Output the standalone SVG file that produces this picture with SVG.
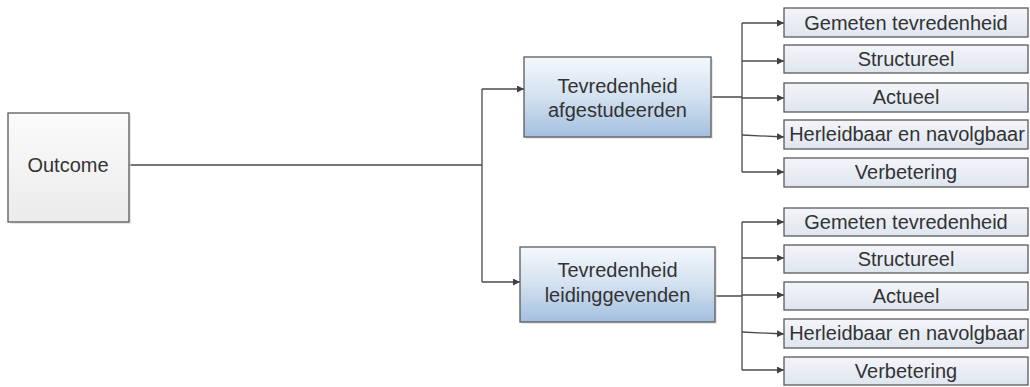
<svg xmlns="http://www.w3.org/2000/svg" width="1030" height="387" viewBox="0 0 1030 387">
<defs>
<linearGradient id="gGray" x1="0" y1="0" x2="0" y2="1"><stop offset="0" stop-color="#fbfbfb"/><stop offset="1" stop-color="#ebebeb"/></linearGradient>
<linearGradient id="gBlue" x1="0" y1="0" x2="0" y2="1"><stop offset="0" stop-color="#f4f8fc"/><stop offset="0.5" stop-color="#d3e1f0"/><stop offset="1" stop-color="#a3bfdf"/></linearGradient>
<linearGradient id="gLight" x1="0" y1="0" x2="0" y2="1"><stop offset="0" stop-color="#f3f5f9"/><stop offset="1" stop-color="#dfe5ef"/></linearGradient>
<marker id="arr" viewBox="0 0 8 8" refX="8" refY="4" markerWidth="7" markerHeight="7" markerUnits="userSpaceOnUse" orient="auto"><path d="M0,0 L8,4 L0,8 z" fill="#404040"/></marker>
</defs>
<style>
.box{stroke:#5a5a5a;stroke-width:1.3}
.sh{fill:#d9d9d9;opacity:0.6}
.gray{fill:url(#gGray)}
.blue{fill:url(#gBlue)}
.light{fill:url(#gLight)}
text{font-family:"Liberation Sans",Arial,sans-serif;font-size:20px;fill:#333;text-anchor:middle}
.c{fill:none;stroke:#4a4a4a;stroke-width:1.3}
.a{fill:none;stroke:#4a4a4a;stroke-width:1.3;marker-end:url(#arr)}
</style>
<rect width="1030" height="387" fill="#fff"/>
<g id="connectors">
<path class="c" d="M129,165 H482 M482,89 V282"/>
<path class="a" d="M482,89 H524"/>
<path class="a" d="M482,282 H520"/>
<path class="c" d="M711,97 H742 M742,23 V172"/>
<path class="a" d="M742,23 H784"/>
<path class="a" d="M742,61 H784"/>
<path class="a" d="M742,98 H784"/>
<path class="a" d="M742,135 L784,137"/>
<path class="a" d="M742,172 H784"/>
<path class="c" d="M715,296 H742 M742,222 V370"/>
<path class="a" d="M742,222 H784"/>
<path class="a" d="M742,258 H784"/>
<path class="a" d="M742,295 H784"/>
<path class="a" d="M742,332 L784,334"/>
<path class="a" d="M742,370 H784"/>
</g>
<g id="outcome">
<rect class="sh" x="10" y="115" width="121" height="109"/>
<rect class="box gray" x="8" y="113" width="121" height="109"/>
<text x="68" y="172">Outcome</text>
</g>
<g id="afgestudeerden">
<rect class="sh" x="526" y="59" width="187" height="80"/>
<rect class="box blue" x="524" y="57" width="187" height="80"/>
<text x="617.5" y="93">Tevredenheid</text>
<text x="617.5" y="117">afgestudeerden</text>
</g>
<g id="leidinggevenden">
<rect class="sh" x="522" y="249" width="195" height="75"/>
<rect class="box blue" x="520" y="247" width="195" height="75"/>
<text x="617.5" y="277">Tevredenheid</text>
<text x="617.5" y="302">leidinggevenden</text>
</g>
<g id="a-gemeten"><rect class="box light" x="784" y="8" width="244" height="29"/><text x="906" y="29.5">Gemeten tevredenheid</text></g>
<g id="a-structureel"><rect class="box light" x="784" y="45" width="244" height="28"/><text x="906" y="66">Structureel</text></g>
<g id="a-actueel"><rect class="box light" x="784" y="83" width="244" height="29"/><text x="906" y="104">Actueel</text></g>
<g id="a-herleidbaar"><rect class="box light" x="784" y="120" width="244" height="29"/><text x="907" y="141">Herleidbaar en navolgbaar</text></g>
<g id="a-verbetering"><rect class="box light" x="784" y="158" width="244" height="29"/><text x="906" y="179">Verbetering</text></g>
<g id="l-gemeten"><rect class="box light" x="784" y="208" width="244" height="28"/><text x="906" y="229">Gemeten tevredenheid</text></g>
<g id="l-structureel"><rect class="box light" x="784" y="245" width="244" height="28"/><text x="906" y="266">Structureel</text></g>
<g id="l-actueel"><rect class="box light" x="784" y="282" width="244" height="28"/><text x="906" y="303">Actueel</text></g>
<g id="l-herleidbaar"><rect class="box light" x="784" y="319" width="244" height="29"/><text x="907" y="340">Herleidbaar en navolgbaar</text></g>
<g id="l-verbetering"><rect class="box light" x="784" y="357" width="244" height="28"/><text x="906" y="378">Verbetering</text></g>
</svg>
